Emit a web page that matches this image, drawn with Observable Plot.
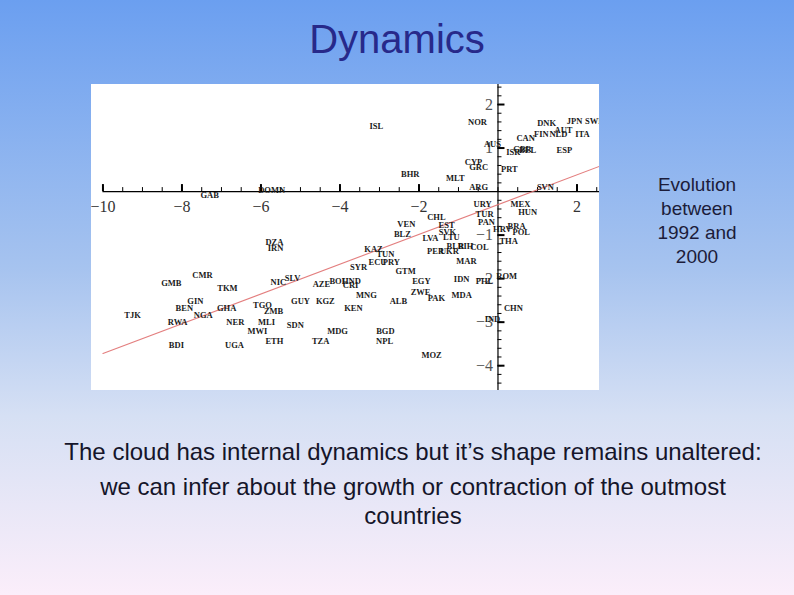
<!DOCTYPE html>
<html>
<head>
<meta charset="utf-8">
<script src="https://cdn.jsdelivr.net/npm/d3@7"></script>
<script src="https://cdn.jsdelivr.net/npm/@observablehq/plot@0.6"></script>
<style>
  html, body { margin: 0; padding: 0; }
  #slide { position: relative; width: 794px; height: 595px; overflow: hidden;
    background: linear-gradient(to bottom, #6b9ff0 0%, #a6c3ef 45%, #d6e0f4 70%, #fbeefa 100%);
    font-family: Arial, "Liberation Sans", sans-serif; }
  #title { position: absolute; left: 0; width: 794px; top: 16px; text-align: center;
    font-size: 40px; line-height: 46px; color: #27298a; }
  #chart { position: absolute; left: 91px; top: 84px; width: 508px; height: 306px; background: #fff; }
  #side { position: absolute; left: 637px; width: 120px; top: 173px; text-align: center;
    font-size: 19px; line-height: 24px; color: #1c1c3a; }
  .cap { position: absolute; left: 0; width: 826px; text-align: center; font-size: 24px; line-height: 27px; color: #15152a; }
</style>
</head>
<body>
<div id="slide">
  <div id="title">Dynamics</div>
  <div id="chart"></div>
  <div id="side">Evolution<br>between<br>1992 and<br>2000</div>
  <div class="cap" style="top:438px">The cloud has internal dynamics but it’s shape remains unaltered:</div>
  <div class="cap" style="top:473px">we can infer about the growth or contraction of the outmost</div>
  <div class="cap" style="top:502px">countries</div>
</div>
<script>
// Country codes and their (x, y) positions
const countries = ["ISL","NOR","DNK","JPN","SWE","CHE","AUT","CAN","FIN","NLD","ITA","AUS","ISR","GBR","BEL","ESP",
  "CYP","GRC","PRT","BHR","MLT","ARG","SVN","GAB","DOMN",
  "URY","MEX","TUR","HUN","CHL","EST","PAN","VEN","BLZ","SVK","BRA","HRV","POL","LVA","LTU","THA","BLR","BIH","COL",
  "PER","UKR","KAZ","TUN","ECU","PRY","DZA","IRN","MAR","SYR","GTM","EGY","IDN","PHL","ROM","SLV","NIC","AZE","BOL",
  "HND","CRI","CMR","GMB","TKM","ZWE","PAK","MDA","MNG","ALB","GIN","BEN","GHA","TGO","ZMB","GUY","KGZ","KEN","NGA",
  "TJK","RWA","NER","MLI","SDN","CHN","IND","MWI","MDG","BGD","NPL","ETH","TZA","BDI","UGA","MOZ"];
const xValues = [-3.08,-0.52,1.23,1.94,2.44,2.85,1.66,0.70,1.10,1.53,2.14,-0.14,0.39,0.62,0.75,1.68,
  -0.62,-0.49,0.29,-2.22,-1.08,-0.49,1.20,-7.30,-5.73,
  -0.39,0.57,-0.34,0.75,-1.56,-1.30,-0.29,-2.32,-2.42,-1.28,0.47,0.11,0.59,-1.71,-1.18,0.27,-1.08,-0.82,-0.47,
  -1.58,-1.23,-3.15,-2.85,-3.05,-2.70,-5.66,-5.63,-0.80,-3.53,-2.34,-1.94,-0.92,-0.34,0.22,-5.20,-5.56,-4.47,-4.04,
  -3.71,-3.73,-7.48,-8.27,-6.85,-1.96,-1.56,-0.92,-3.33,-2.52,-7.66,-7.94,-6.87,-5.96,-5.68,-5.00,-4.37,-3.66,-7.46,
  -9.25,-8.11,-6.65,-5.86,-5.13,0.39,-0.14,-6.09,-4.06,-2.85,-2.87,-5.66,-4.49,-8.14,-6.67,-1.68];
const yValues = [1.49,1.59,1.56,1.61,1.61,1.45,1.40,1.22,1.31,1.31,1.31,1.08,0.90,0.97,0.94,0.94,
  0.67,0.55,0.51,0.39,0.30,0.11,0.09,-0.09,0.02,
  -0.30,-0.28,-0.51,-0.48,-0.60,-0.78,-0.71,-0.76,-0.97,-0.94,-0.80,-0.87,-0.94,-1.08,-1.06,-1.15,-1.26,-1.26,-1.29,
  -1.36,-1.38,-1.33,-1.45,-1.63,-1.63,-1.17,-1.31,-1.61,-1.75,-1.82,-2.05,-2.02,-2.05,-1.95,-2.00,-2.09,-2.14,-2.05,
  -2.05,-2.16,-1.93,-2.11,-2.21,-2.32,-2.44,-2.39,-2.39,-2.53,-2.51,-2.67,-2.67,-2.62,-2.74,-2.51,-2.53,-2.69,-2.85,
  -2.85,-3.01,-3.01,-3.01,-3.06,-2.67,-2.94,-3.22,-3.22,-3.20,-3.43,-3.43,-3.43,-3.54,-3.54,-3.77];

// Fitted trend line endpoints
const trendX = [-10, 2.57];
const trendY = [-3.72, 0.58];

// Axis ticks and labels
const xTickLabels = [-10, -8, -6, -4, -2, 2];
const yTickLabels = [2, 1, -1, -2, -3, -4];
const xMinorTicks = d3.range(-10, 2.51, 0.5);
const yMinorTicks = d3.range(-4.6, 2.41, 0.2);
const xMajorTicks = [-10, -8, -6, -4, -2, 2];
const yMajorTicks = [-4, -3, -2, -1, 1, 2];

const points = countries.map((c, i) => ({code: c, x: xValues[i], y: yValues[i]}));
const trend = trendX.map((x, i) => ({x, y: trendY[i]}));
const minus = v => v < 0 ? "\u2212" + Math.abs(v) : String(v);

const xd = [-10.29, 2.57], yd = [-4.57, 2.46];
const pxX = (xd[1] - xd[0]) / 508, pxY = (yd[1] - yd[0]) / 306;

const chart = Plot.plot({
  width: 508, height: 306,
  marginTop: 0, marginRight: 0, marginBottom: 0, marginLeft: 0,
  x: {domain: xd, axis: null},
  y: {domain: yd, axis: null},
  style: {background: "#fff", overflow: "hidden"},
  marks: [
    // axes lines
    Plot.ruleY([0], {x1: () => -10, x2: () => xd[1], stroke: "#000", strokeWidth: 1.2}),
    Plot.ruleX([0], {y1: () => yd[0], y2: () => yd[1], stroke: "#000", strokeWidth: 1.2}),
    // x ticks (upward)
    Plot.ruleX(xMinorTicks, {x: d => d, y1: () => 0, y2: () => 4 * pxY, stroke: "#000", strokeWidth: 1}),
    Plot.ruleX(xMajorTicks, {x: d => d, y1: () => 0, y2: () => 7 * pxY, stroke: "#000", strokeWidth: 2}),
    // y ticks (to the right)
    Plot.ruleY(yMinorTicks.filter(v => Math.abs(v) > 0.05), {y: d => d, x1: () => 0, x2: () => 4 * pxX, stroke: "#000", strokeWidth: 1}),
    Plot.ruleY(yMajorTicks, {y: d => d, x1: () => 0, x2: () => 7 * pxX, stroke: "#000", strokeWidth: 2}),
    // tick labels
    Plot.text(xTickLabels, {x: d => d, y: () => 0, text: d => minus(d), dy: 15,
      fontFamily: "Liberation Serif, Times New Roman, serif", fontSize: 16, fill: "#333"}),
    Plot.text(yTickLabels, {x: () => 0, y: d => d, text: d => minus(d), dx: -5, textAnchor: "end",
      fontFamily: "Liberation Serif, Times New Roman, serif", fontSize: 16, fill: "#555"}),
    // trend line
    Plot.line(trend, {x: "x", y: "y", stroke: "#e07070", strokeWidth: 1.1, strokeOpacity: 0.9}),
    // country labels
    Plot.text(points, {x: "x", y: "y", text: "code", clip: true,
      fontFamily: "Liberation Serif, Times New Roman, serif", fontSize: 8.5, fontWeight: "bold", fill: "#1a1a1a"})
  ]
});
document.getElementById("chart").appendChild(chart);
</script>
</body>
</html>
